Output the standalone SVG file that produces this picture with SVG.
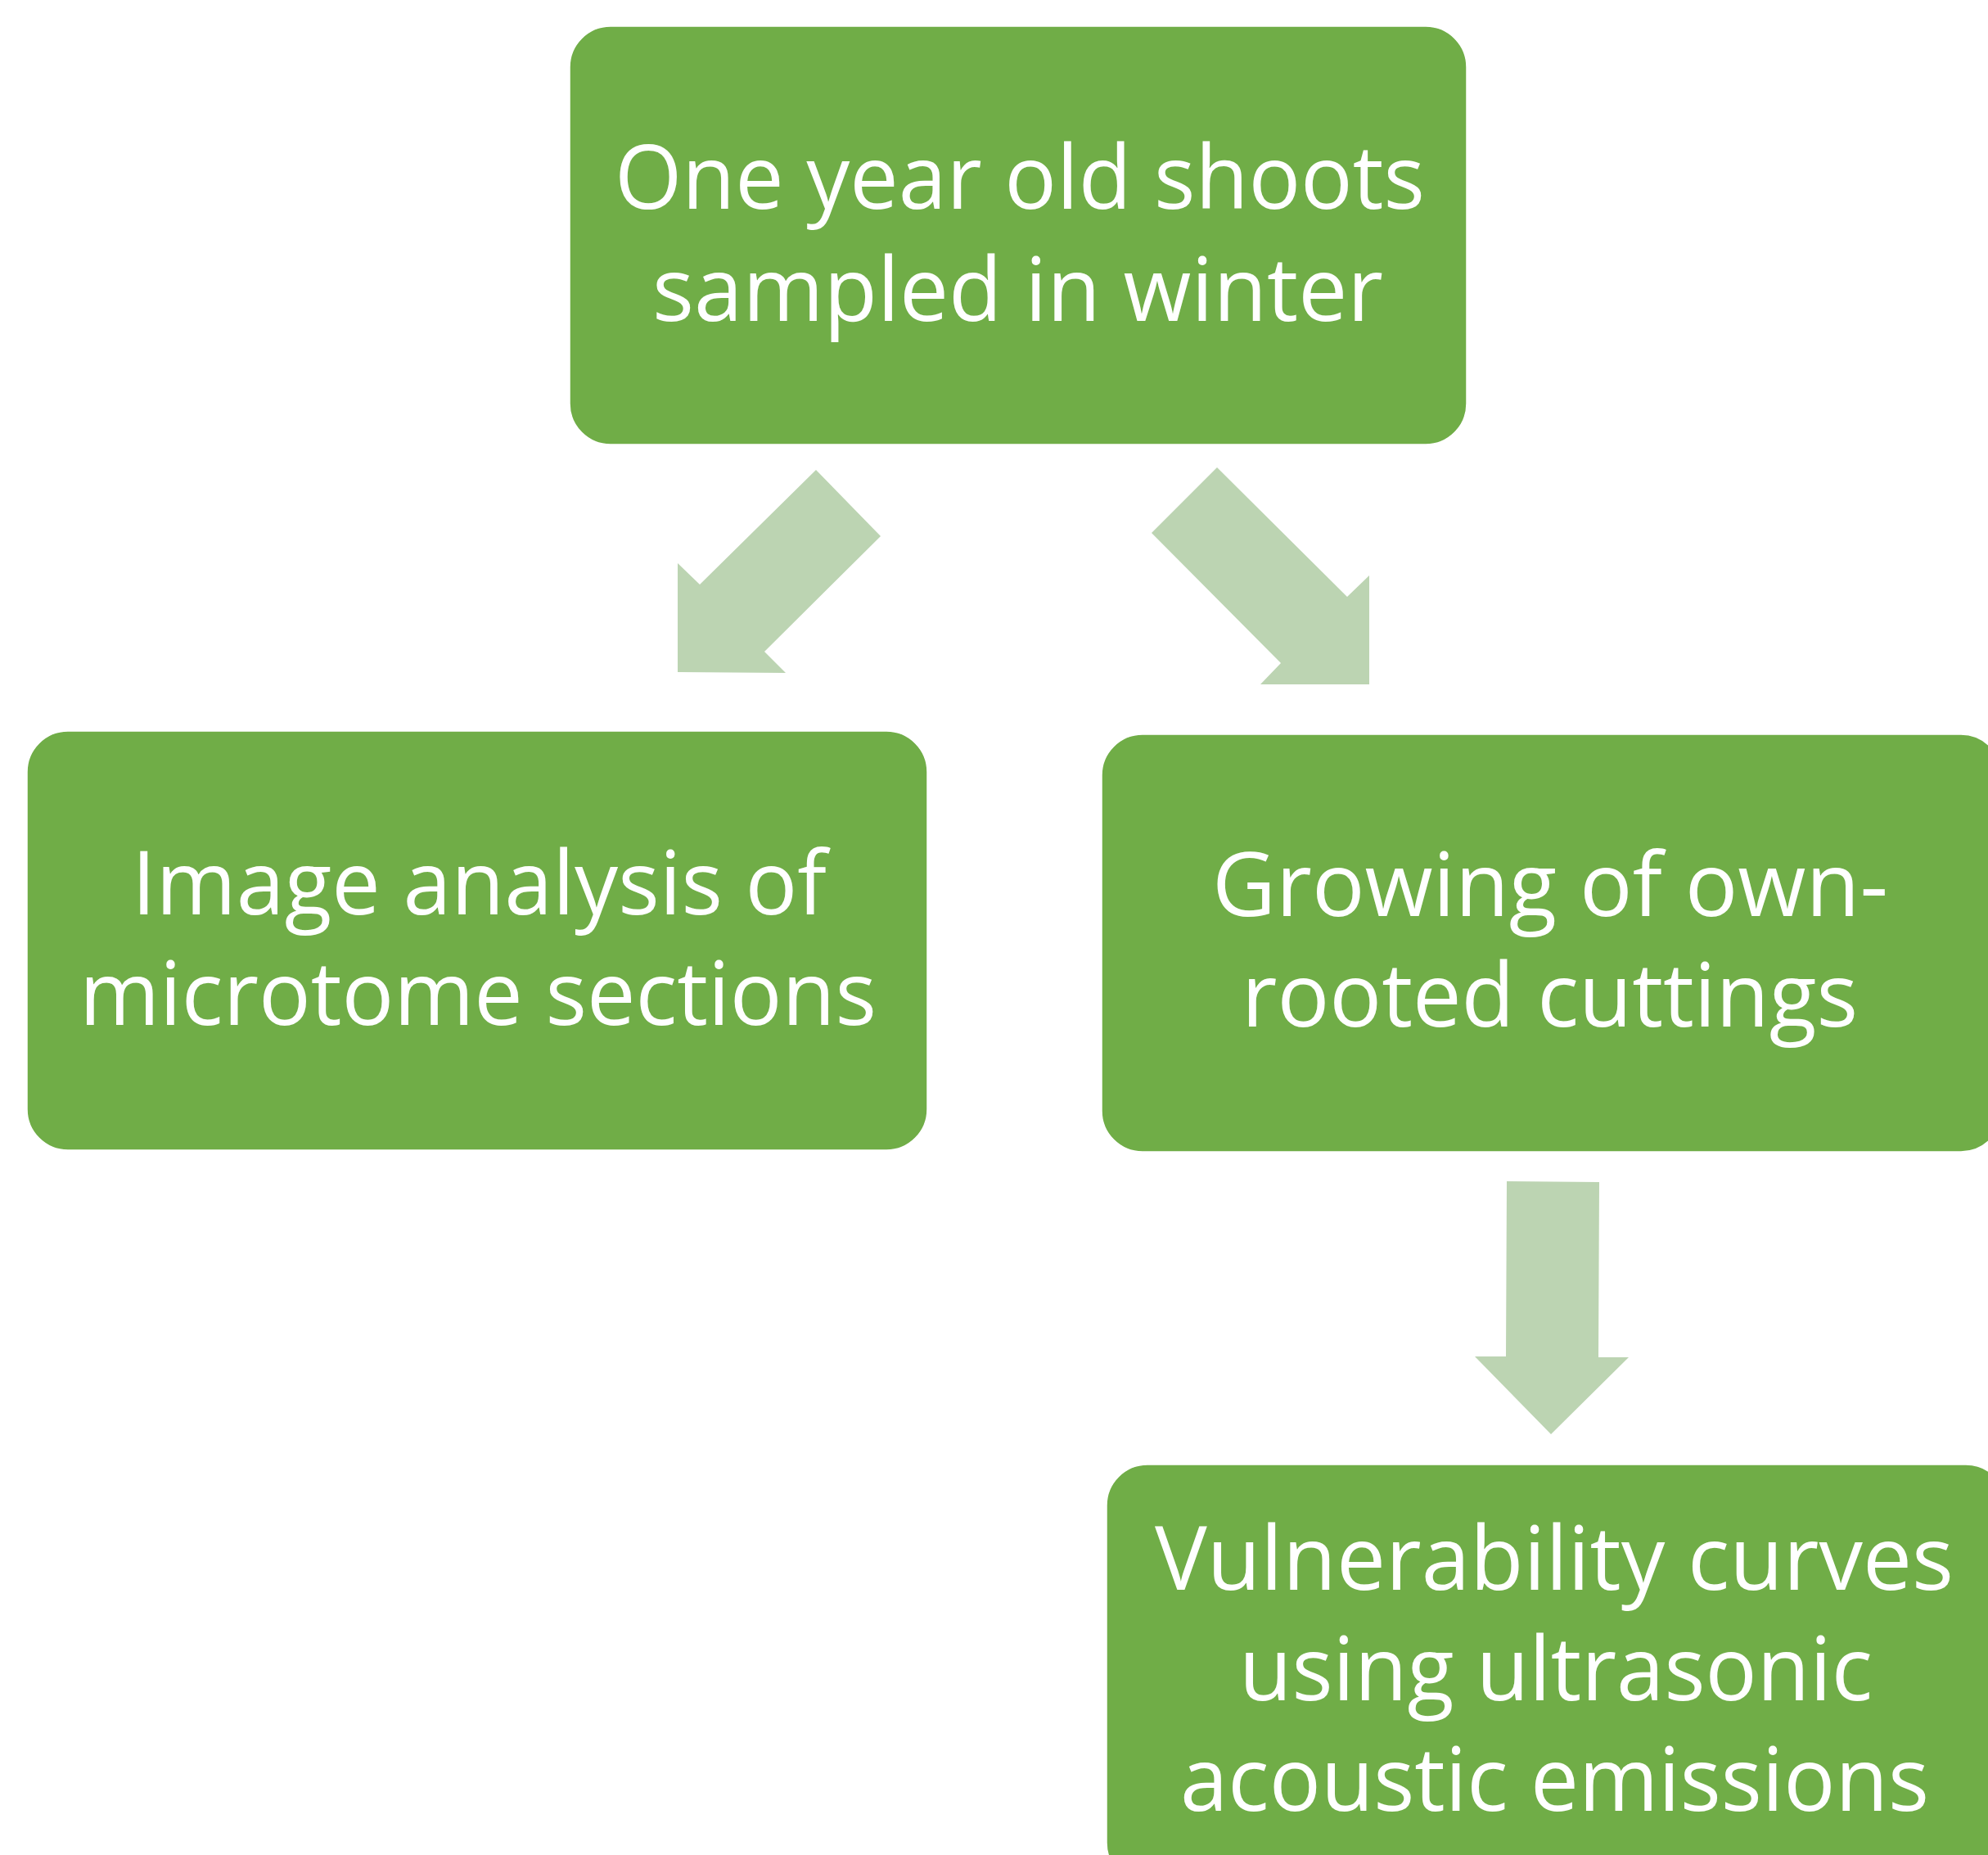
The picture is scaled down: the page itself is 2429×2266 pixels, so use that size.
<svg xmlns="http://www.w3.org/2000/svg" width="2429" height="2266" viewBox="0 0 2429 2266">
  <style>
    .box { fill: #70AD47; stroke: #ffffff; stroke-width: 1.5; }
    .lbl { font-family: "Open Sans", "Noto Sans", "Liberation Sans", sans-serif; font-size: 108px; fill: #ffffff; }
    .arrow { fill: #BCD4B2; }
  </style>
  <rect width="2429" height="2266" fill="#ffffff"/>
  <g id="connectors">
    <polygon class="arrow" points="997,574 1076,655 934,796 960,822 828,821 828,688 855,714"/>
    <polygon class="arrow" points="1487,571 1407,651 1565,810 1540,836 1673,836 1673,703 1646,729"/>
    <polygon class="arrow" points="1841,1443 1954,1444 1953,1658 1990,1658 1895,1752 1802,1657 1840,1657"/>
  </g>
  <g id="node-shoots">
    <rect class="box" x="696" y="32" width="1096" height="511" rx="50" ry="50"/>
    <text class="lbl" x="751" y="255" textLength="990" lengthAdjust="spacingAndGlyphs">One year old shoots</text>
    <text class="lbl" x="797" y="392" textLength="893" lengthAdjust="spacingAndGlyphs">sampled in winter</text>
  </g>
  <g id="node-image">
    <rect class="box" x="33" y="893" width="1100" height="512" rx="50" ry="50"/>
    <text class="lbl" x="161" y="1117" textLength="849" lengthAdjust="spacingAndGlyphs">Image analysis of</text>
    <text class="lbl" x="97" y="1252" textLength="974" lengthAdjust="spacingAndGlyphs">microtome sections</text>
  </g>
  <g id="node-growing">
    <rect class="box" x="1346" y="897" width="1100" height="510" rx="50" ry="50"/>
    <text class="lbl" x="1481" y="1119" textLength="826" lengthAdjust="spacingAndGlyphs">Growing of own-</text>
    <text class="lbl" x="1517" y="1254" textLength="753" lengthAdjust="spacingAndGlyphs">rooted cuttings</text>
  </g>
  <g id="node-vulnerability">
    <rect class="box" x="1352" y="1789" width="1100" height="512" rx="50" ry="50"/>
    <text class="lbl" x="1411" y="1942" textLength="976" lengthAdjust="spacingAndGlyphs">Vulnerability curves</text>
    <text class="lbl" x="1514" y="2077" textLength="774" lengthAdjust="spacingAndGlyphs">using ultrasonic</text>
    <text class="lbl" x="1442" y="2212" textLength="915" lengthAdjust="spacingAndGlyphs">acoustic emissions</text>
  </g>
</svg>
